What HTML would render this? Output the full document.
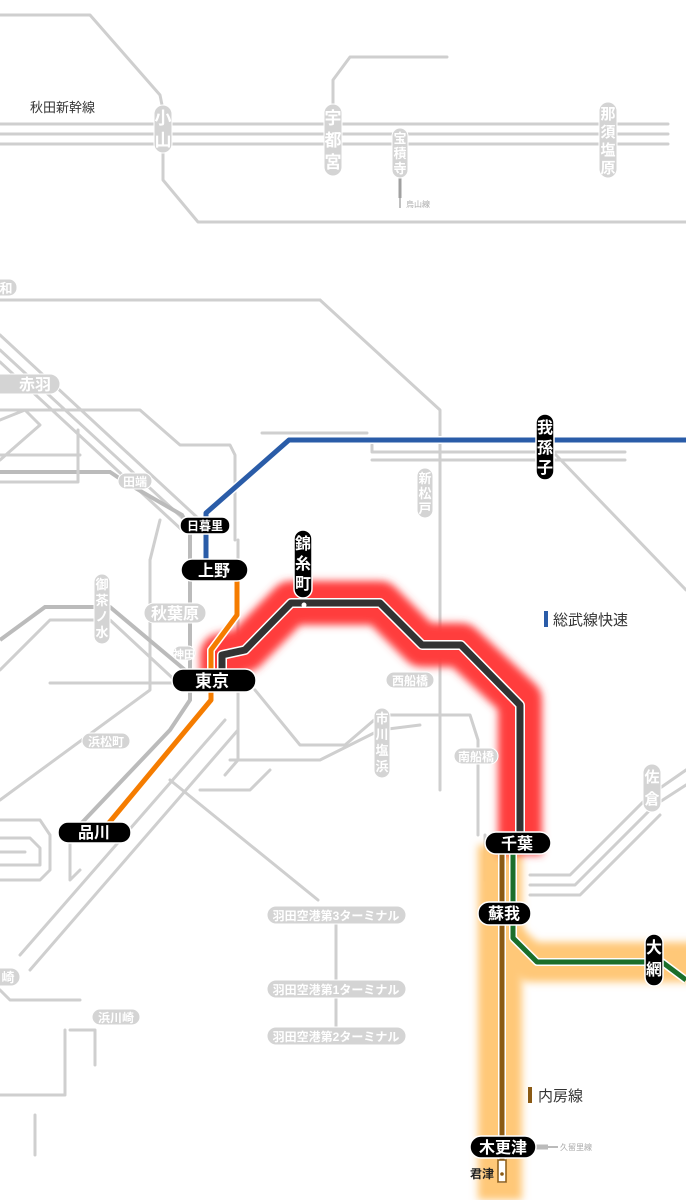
<!DOCTYPE html>
<html><head><meta charset="utf-8"><style>
html,body{margin:0;padding:0;background:#fff;}
svg{display:block;font-family:"Liberation Sans","Noto Sans CJK JP",sans-serif;}
.g{fill:none;stroke:#cfcfcf;stroke-width:3;stroke-linejoin:round;stroke-linecap:round}
.bp{fill:#000;stroke:#fff;stroke-width:1.5}
.bt{fill:#fff;font-weight:bold;text-anchor:middle}
.gp{fill:#d4d4d4;stroke:#fff;stroke-width:1}
.gt{fill:#fff;font-weight:bold;text-anchor:middle}
</style></head><body>
<svg width="686" height="1200" viewBox="0 0 686 1200">
<defs>
<filter id="bl" filterUnits="userSpaceOnUse" x="0" y="0" width="686" height="1200"><feGaussianBlur stdDeviation="4"/></filter>
</defs>
<!-- top gray -->
<polyline class="g" points="0,15 90,15 160,95 163,110"/>
<polyline class="g" points="0,124 668,124"/>
<polyline class="g" points="0,134 668,134"/>
<polyline class="g" points="0,144 668,144"/>
<polyline class="g" points="333,105 333,80 350,57 447,57"/>
<polyline class="g" points="163,150 163,180 198,222 686,222"/>
<line x1="400" y1="175" x2="400" y2="198" stroke="#a0a0a0" stroke-width="3"/>
<line x1="400" y1="198" x2="400" y2="208" stroke="#c0c0c0" stroke-width="2"/>
<text x="406" y="207" font-size="8" fill="#aaa">烏山線</text>
<text x="30" y="112" font-size="13" fill="#333">秋田新幹線</text>
<polyline class="g" points="0,300 320,300"/>

<!-- middle gray network -->
<polyline class="g" points="0,335 200,520"/>
<polyline class="g" points="0,350 190,525"/>
<polyline class="g" points="0,362 182,530"/>
<polyline class="g" points="0,420 25,410 40,425 0,460"/>
<polyline class="g" points="20,300 320,300 440,410 440,790"/>
<polyline class="g" points="0,410 140,410 180,445 230,445 235,455 235,540"/>
<polyline class="g" points="0,455 80,455"/>
<polyline fill="none" stroke="#bbb" stroke-width="4" points="0,472 110,472 125,482 182,515 190,530 190,700 170,730 75,830"/>
<polyline class="g" points="0,482 78,482 78,430"/>
<polyline class="g" points="150,560 150,690 0,800"/>
<polyline class="g" points="160,520 150,560"/>
<polyline class="g" points="262,433 367,433"/>
<polyline class="g" points="372,445 372,452 625,452"/>
<polyline class="g" points="372,460 625,460"/>
<polyline class="g" points="556,455 686,590"/>
<polyline fill="none" stroke="#bbb" stroke-width="4" points="0,640 45,607 110,607 185,670"/>
<polyline class="g" points="0,670 50,620 110,620 180,685"/>
<polyline class="g" points="50,683 180,683"/>
<polyline class="g" points="238,540 238,760 225,775"/>
<polyline class="g" points="255,690 300,745 345,745 380,715 430,715 470,715 478,740 478,835"/>
<polyline class="g" points="485,835 485,880"/>
<polyline class="g" points="230,760 320,760 380,730 420,725"/>
<polyline class="g" points="170,780 318,900"/>
<polyline class="g" points="225,720 20,955"/>
<polyline class="g" points="238,730 30,970"/>
<polyline class="g" points="200,790 250,790 270,770"/>
<polyline class="g" points="0,820 40,820 50,835 50,870 40,880 0,880"/>
<polyline class="g" points="0,838 30,838 40,848 40,865 0,865"/>
<polyline class="g" points="0,852 25,852"/>
<polyline class="g" points="70,840 70,880 80,870"/>
<polyline class="g" points="336,922 336,1030"/>
<polyline class="g" points="0,990 10,1000 80,1000"/>
<polyline class="g" points="65,1030 65,1095 0,1095"/>
<polyline class="g" points="70,1030 95,1030 95,1065"/>
<polyline class="g" points="35,1115 35,1155"/>
<polyline class="g" points="530,875 570,875 650,795 686,770"/>
<polyline class="g" points="530,885 575,885 655,805 686,785"/>
<polyline class="g" points="530,895 580,895 660,815"/>

<!-- glows -->
<polyline fill="none" stroke="#ffc878" stroke-width="44" stroke-linejoin="round" filter="url(#bl)" points="500,845 500,1200"/>
<polyline fill="none" stroke="#ffc878" stroke-width="40" stroke-linejoin="round" filter="url(#bl)" points="505,940 530,962 700,962"/>
<polyline fill="none" stroke="#ff3c3c" stroke-width="44" stroke-linejoin="round" filter="url(#bl)" points="222,685 222,655 245,650 291,603 380,603 422,645 461,645 520,700 520,855"/>

<!-- blue -->
<polyline fill="none" stroke="#fff" stroke-width="8" stroke-linejoin="round" points="686,440 289,440 206,513 206,570"/>
<polyline fill="none" stroke="#2a5ca8" stroke-width="5" stroke-linejoin="round" points="686,440 289,440 206,513 206,570"/>
<!-- orange -->
<polyline fill="none" stroke="#fff" stroke-width="8" stroke-linejoin="round" points="237,580 237,615 211,650 211,700 103,830"/>
<polyline fill="none" stroke="#f57c00" stroke-width="5" stroke-linejoin="round" points="237,580 237,615 211,650 211,700 103,830"/>
<!-- black sobu -->
<polyline fill="none" stroke="#fff" stroke-width="10" stroke-linejoin="round" points="222,680 222,655 245,650 291,603 380,603 422,645 461,645 520,705 520,840"/>
<polyline fill="none" stroke="#333" stroke-width="7" stroke-linejoin="round" points="222,680 222,655 245,650 291,603 380,603 422,645 461,645 520,705 520,840"/>
<circle cx="304" cy="605" r="2.5" fill="#fff"/>
<!-- brown uchibo -->
<polyline fill="none" stroke="#fff" stroke-width="8" points="502,845 502,1183"/>
<polyline fill="none" stroke="#8b5a14" stroke-width="5" points="502,845 502,1180"/>
<rect x="498" y="1160" width="8" height="22" fill="#fff" stroke="#8b5a14" stroke-width="1.5"/>
<circle cx="502" cy="1174" r="1.8" fill="#8b5a14"/>
<!-- green -->
<polyline fill="none" stroke="#fff" stroke-width="8" stroke-linejoin="round" points="513,850 513,938 537,962 662,962 686,980"/>
<polyline fill="none" stroke="#1b6e2a" stroke-width="5" stroke-linejoin="round" points="513,850 513,938 537,962 662,962 686,980"/>
<line x1="536" y1="1147" x2="548" y2="1147" stroke="#bbb" stroke-width="5"/>
<line x1="548" y1="1147" x2="558" y2="1147" stroke="#bbb" stroke-width="2"/>
<text x="560" y="1150" font-size="8" fill="#aaa">久留里線</text>

<!-- gray vertical pills -->
<rect class="gp" x="154" y="105" width="18" height="48" rx="9"/>
<text class="gt" font-size="17"><tspan x="163" y="124">小</tspan><tspan x="163" y="146">山</tspan></text>
<rect class="gp" x="324" y="104" width="18" height="72" rx="9"/>
<text class="gt" font-size="17"><tspan x="333" y="124">宇</tspan><tspan x="333" y="146">都</tspan><tspan x="333" y="168">宮</tspan></text>
<rect class="gp" x="392" y="128" width="16" height="50" rx="8"/>
<text class="gt" font-size="13"><tspan x="400" y="143">宝</tspan><tspan x="400" y="158">積</tspan><tspan x="400" y="173">寺</tspan></text>
<rect class="gp" x="599" y="102" width="18" height="76" rx="9"/>
<text class="gt" font-size="15"><tspan x="608" y="119">那</tspan><tspan x="608" y="137">須</tspan><tspan x="608" y="155">塩</tspan><tspan x="608" y="173">原</tspan></text>
<rect class="gp" x="94" y="574" width="16" height="70" rx="8"/>
<text class="gt" font-size="13"><tspan x="102" y="589">御</tspan><tspan x="102" y="605">茶</tspan><tspan x="102" y="621">ノ</tspan><tspan x="102" y="637">水</tspan></text>
<rect class="gp" x="417" y="468" width="16" height="50" rx="8"/>
<text class="gt" font-size="13"><tspan x="425" y="483">新</tspan><tspan x="425" y="498">松</tspan><tspan x="425" y="513">戸</tspan></text>
<rect class="gp" x="374" y="708" width="16" height="70" rx="8"/>
<text class="gt" font-size="13"><tspan x="382" y="723">市</tspan><tspan x="382" y="739">川</tspan><tspan x="382" y="755">塩</tspan><tspan x="382" y="771">浜</tspan></text>
<rect class="gp" x="643" y="764" width="18" height="48" rx="9"/>
<text class="gt" font-size="15"><tspan x="652" y="782">佐</tspan><tspan x="652" y="804">倉</tspan></text>

<!-- gray horizontal pills -->
<rect class="gp" x="-10" y="279" width="27" height="17" rx="8"/><text class="gt" x="6" y="293" font-size="13">和</text>
<rect class="gp" x="-10" y="374" width="70" height="20" rx="10"/><text class="gt" x="35" y="390" font-size="16">赤羽</text>
<rect class="gp" x="118" y="473" width="34" height="16" rx="8"/><text class="gt" x="135" y="486" font-size="12">田端</text>
<rect class="gp" x="144" y="603" width="62" height="20" rx="10"/><text class="gt" x="175" y="619" font-size="16">秋葉原</text>
<rect class="gp" x="173" y="646" width="22" height="14" rx="7"/><text class="gt" x="184" y="658" font-size="11">神田</text>
<rect class="gp" x="386" y="672" width="48" height="16" rx="8"/><text class="gt" x="410" y="685" font-size="12">西船橋</text>
<rect class="gp" x="454" y="748" width="44" height="16" rx="8"/><text class="gt" x="476" y="761" font-size="12">南船橋</text>
<rect class="gp" x="82" y="733" width="48" height="16" rx="8"/><text class="gt" x="106" y="746" font-size="12">浜松町</text>
<rect class="gp" x="92" y="1009" width="48" height="16" rx="8"/><text class="gt" x="116" y="1022" font-size="12">浜川崎</text>
<rect class="gp" x="-10" y="968" width="30" height="18" rx="9"/><text class="gt" x="8" y="982" font-size="13">崎</text>
<rect class="gp" x="267" y="906" width="139" height="18" rx="9"/><text class="gt" x="336" y="920" font-size="12">羽田空港第3ターミナル</text>
<rect class="gp" x="267" y="980" width="139" height="18" rx="9"/><text class="gt" x="336" y="994" font-size="12">羽田空港第1ターミナル</text>
<rect class="gp" x="267" y="1027" width="139" height="18" rx="9"/><text class="gt" x="336" y="1041" font-size="12">羽田空港第2ターミナル</text>

<!-- black pills -->
<rect class="bp" x="536" y="414" width="18" height="66" rx="9"/>
<text class="bt" font-size="16"><tspan x="545" y="433">我</tspan><tspan x="545" y="453">孫</tspan><tspan x="545" y="473">子</tspan></text>
<rect class="bp" x="294" y="530" width="18" height="68" rx="9"/>
<text class="bt" font-size="16"><tspan x="303" y="549">錦</tspan><tspan x="303" y="569">糸</tspan><tspan x="303" y="589">町</tspan></text>
<rect class="bp" x="645" y="934" width="18" height="52" rx="9"/>
<text class="bt" font-size="16"><tspan x="654" y="953">大</tspan><tspan x="654" y="975">網</tspan></text>
<rect class="bp" x="180" y="517" width="50" height="17" rx="8"/><text class="bt" x="205" y="530" font-size="12">日暮里</text>
<rect class="bp" x="181" y="559" width="67" height="22" rx="11"/><text class="bt" x="214" y="576" font-size="16">上野</text>
<rect class="bp" x="172" y="669" width="84" height="23" rx="11"/><text class="bt" x="212" y="687" font-size="17">東京</text>
<rect class="bp" x="58" y="822" width="73" height="21" rx="10"/><text class="bt" x="94" y="838" font-size="16">品川</text>
<rect class="bp" x="485" y="832" width="66" height="22" rx="11"/><text class="bt" x="517" y="849" font-size="16">千葉</text>
<rect class="bp" x="478" y="902" width="53" height="23" rx="11"/><text class="bt" x="504" y="919" font-size="16">蘇我</text>
<rect class="bp" x="470" y="1136" width="66" height="22" rx="11"/><text class="bt" x="503" y="1153" font-size="16">木更津</text>
<text x="470" y="1178" font-size="12" font-weight="bold" fill="#222">君津</text>

<!-- legends -->
<rect x="544" y="611" width="4" height="16" fill="#2a5ca8"/>
<text x="553" y="625" font-size="15" fill="#333">総武線快速</text>
<rect x="528" y="1087" width="4" height="16" fill="#8b5a14"/>
<text x="538" y="1101" font-size="15" fill="#333">内房線</text>
</svg>
</body></html>
